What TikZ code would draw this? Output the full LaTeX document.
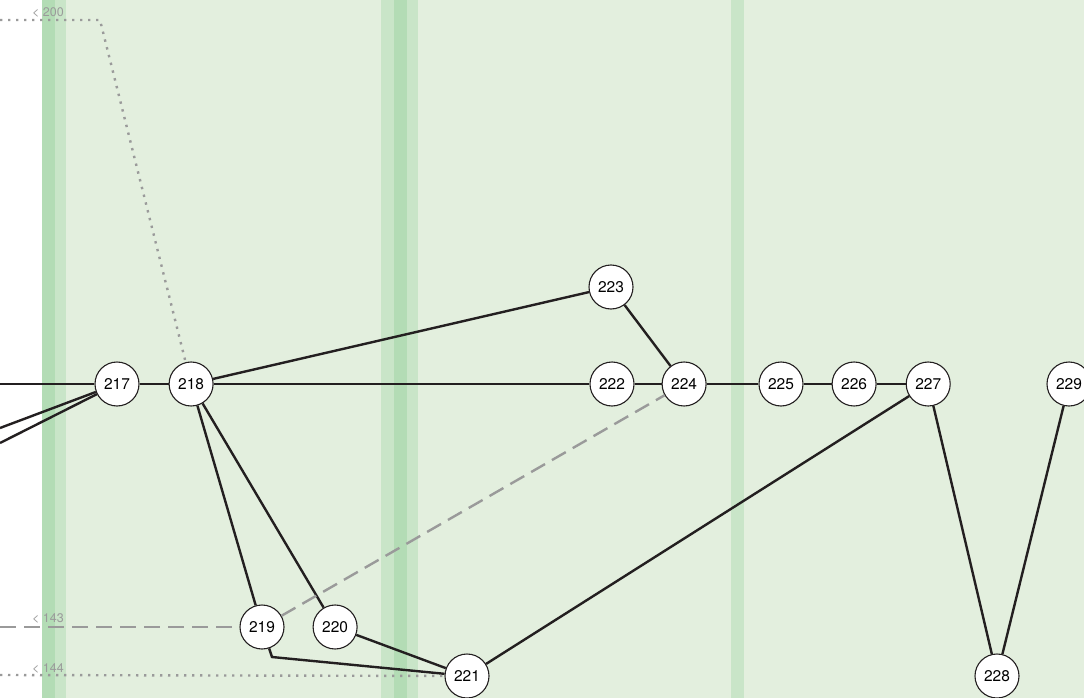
\documentclass[tikz,border=0pt]{standalone}
\usepackage{fontspec}
\setmainfont{TeX Gyre Heros}
\usetikzlibrary{positioning}

\definecolor{laneLight}{RGB}{227,239,222}
\definecolor{laneMid}{RGB}{201,229,200}
\definecolor{laneDark}{RGB}{179,220,181}
\definecolor{edgeBlack}{RGB}{35,31,32}
\definecolor{linkGray}{RGB}{154,154,154}

\begin{document}
\begin{tikzpicture}[
    x=1pt, y=-1pt,
    every node/.style={font=\fontsize{15.5}{18}\selectfont},
    commit/.style={circle, draw=edgeBlack, fill=white, line width=1.1pt, minimum size=44pt, inner sep=0pt},
    edge/.style={line width=2.4pt, draw=edgeBlack},
    gapdash/.style={line width=2.4pt, draw=linkGray, dash pattern=on 16pt off 8pt},
    gapdot/.style={line width=2.4pt, draw=linkGray, dash pattern=on 2.4pt off 5.6pt},
    hint/.style={font=\fontsize{12.5}{14}\selectfont, text=linkGray, anchor=east, inner sep=0pt}
]

\useasboundingbox (0,0) rectangle (1084,698);

% Lanes
\fill[white] (0,0) rectangle (42,698);
\fill[laneLight] (42,0) rectangle (1084,698);
\fill[laneDark] (42,0) rectangle (55,698);
\fill[laneMid] (55,0) rectangle (66,698);
\fill[laneMid] (381,0) rectangle (394,698);
\fill[laneDark] (394,0) rectangle (407,698);
\fill[laneMid] (407,0) rectangle (418,698);
\fill[laneMid] (731,0) rectangle (744,698);

% Commits on the main line
\node[commit] (c217) at (117,384) {217};
\node[commit, right=29pt of c217] (c218) {218};
\node[commit] (c222) at (612,384) {222};
\node[commit, right=27pt of c222] (c224) {224};
\node[commit] (c223) at (611,287) {223};
\node[commit] (c225) at (781,384) {225};
\node[commit, right=28pt of c225] (c226) {226};
\node[commit, right=29pt of c226] (c227) {227};
\node[commit] (c229) at (1069,384) {229};

% Commits further down
\node[commit] (c219) at (262,627) {219};
\node[commit, right=28pt of c219] (c220) {220};
\node[commit] (c221) at (467,676) {221};
\node[commit] (c228) at (997,676) {228};

% Loose ends at the left border
\coordinate (in384) at (0,384);
\coordinate (in428) at (0,428);
\coordinate (in443) at (0,443);
\coordinate (in200) at (0,20);
\coordinate (turn200) at (100,20);
\coordinate (in143) at (0,627);
\coordinate (in144) at (0,675);
\coordinate (bend219) at (272,657);

% Parent links
\draw[edge] (in384) -- (c217);
\draw[edge] (in428) -- (c217);
\draw[edge] (in443) -- (c217);
\draw[edge] (c217) -- (c218);
\draw[edge] (c218) -- (c223);
\draw[edge] (c218) -- (c222);
\draw[edge] (c222) -- (c224);
\draw[edge] (c223) -- (c224);
\draw[edge] (c224) -- (c225);
\draw[edge] (c225) -- (c226);
\draw[edge] (c226) -- (c227);
\draw[edge] (c218) -- (c219);
\draw[edge] (c218) -- (c220);
\draw[edge] (c219) -- (bend219) -- (c221);
\draw[edge] (c220) -- (c221);
\draw[edge] (c221) -- (c227);
\draw[edge] (c227) -- (c228);
\draw[edge] (c228) -- (c229);

% Links to older commits
\draw[gapdot] (in200) -- (turn200) -- (c218);
\draw[gapdash] (in143) -- (c219);
\draw[gapdash] (c219) -- (c224);
\draw[gapdot] (in144) -- (c221);

\node[hint] (h200) at (64,13) {< 200};
\node[hint] (h143) at (64,618) {< 143};
\node[hint] (h144) at (64,668) {< 144};

\end{tikzpicture}
\end{document}
